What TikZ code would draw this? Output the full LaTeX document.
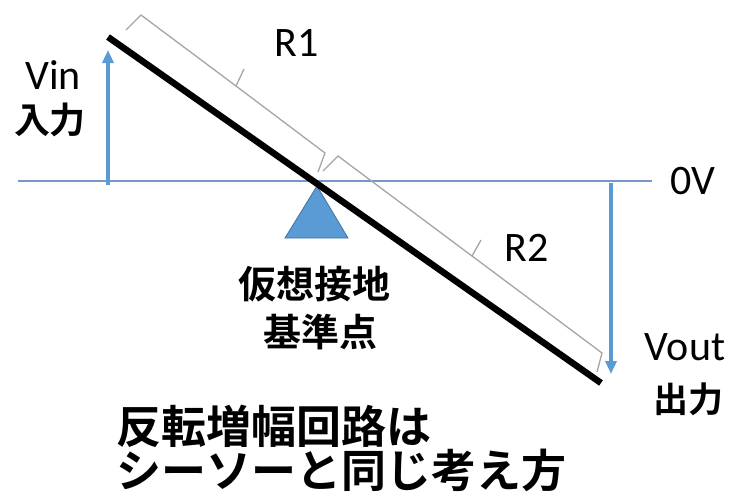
\documentclass[tikz,border=0pt]{standalone}
\usepackage{fontspec}
\setmainfont{Carlito}
\newfontfamily\jpb{Noto Sans CJK JP Bold}
\usetikzlibrary{arrows.meta}
\definecolor{ablue}{RGB}{91,155,213}
\definecolor{hblue}{RGB}{120,150,205}
\definecolor{tborder}{RGB}{65,113,156}
\definecolor{bgray}{RGB}{165,165,165}
\tikzset{
  lat/.style={font=\fontsize{42}{46}\selectfont, inner sep=0pt, anchor=center},
  jp/.style={font=\jpb\fontsize{#1}{#1}\selectfont, inner sep=0pt, anchor=center},
  beam/.style={line width=6.5pt, black},
  zero/.style={line width=1.6pt, hblue},
  varrow/.style={line width=3.6pt, ablue, -{Triangle[length=13pt,width=11pt]}},
  bracepath/.style={line width=1.3pt, bgray, line join=miter},
}
\begin{document}
\begin{tikzpicture}[x=1pt,y=-1pt]
\useasboundingbox (0,0) rectangle (732,496);
% zero volt line
\coordinate (h0) at (18,181);
\coordinate (h1) at (652,181);
\draw[zero] (h0) -- (h1);
\node[lat] (zv) at (693,181) {0V};
% fulcrum
\coordinate (tA) at (317,186);
\coordinate (tB) at (285,238);
\coordinate (tC) at (348,238);
\draw[fill=ablue, draw=tborder, line width=0.8pt] (tA) -- (tB) -- (tC) -- cycle;
% beam
\coordinate (b0) at (108,37);
\coordinate (b1) at (601,383);
\draw[beam] (b0) -- (b1);
% arrows
\coordinate (vin0) at (108,185);
\coordinate (vin1) at (108,50);
\draw[varrow] (vin0) -- (vin1);
\coordinate (vo0) at (611,183);
\coordinate (vo1) at (611,374);
\draw[varrow] (vo0) -- (vo1);
% brace R1
\coordinate (r1a) at (126,30);
\coordinate (r1b) at (141,15);
\coordinate (r1m) at (236,86);
\coordinate (r1t) at (244,69);
\coordinate (r1c) at (325,153);
\coordinate (r1d) at (318,172);
\draw[bracepath] (r1a) -- (r1b) -- (r1m) -- (r1c) -- (r1d);
\draw[bracepath] (r1m) -- (r1t);
% brace R2
\coordinate (r2a) at (323,171);
\coordinate (r2b) at (338,156);
\coordinate (r2m) at (472,256);
\coordinate (r2t) at (481,240);
\coordinate (r2c) at (602,353);
\coordinate (r2d) at (597,372);
\draw[bracepath] (r2a) -- (r2b) -- (r2m) -- (r2c) -- (r2d);
\draw[bracepath] (r2m) -- (r2t);
% labels
\node[lat] (R1) at (297,43) {R1};
\node[lat] (R2) at (527,248) {R2};
\node[lat] (vin) at (53,75) {Vin};
\node[jp=36] (nyu) at (50,120) {入力};
\node[lat] (vout) at (685,347) {Vout};
\node[jp=35] (shu) at (688,399) {出力};
\node[jp=38] (kaso) at (314,284) {仮想接地};
\node[jp=38] (kijun) at (320,332) {基準点};
\node[jp=45, anchor=west] (t1) at (116,426) {反転増幅回路は};
\node[jp=45, anchor=west] (t2) at (116,470) {シーソーと同じ考え方};
\end{tikzpicture}
\end{document}
